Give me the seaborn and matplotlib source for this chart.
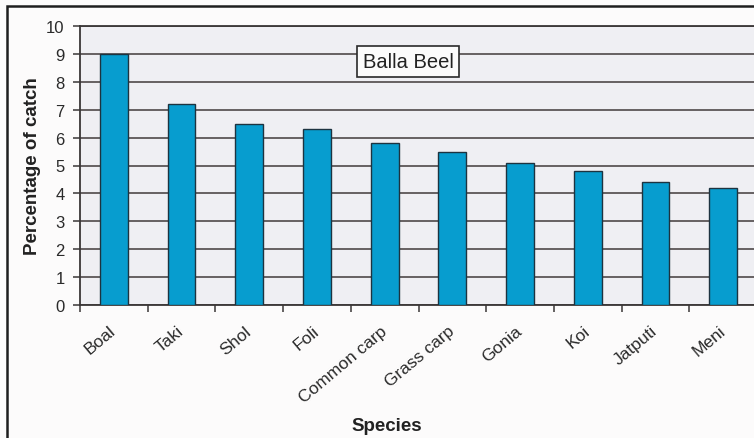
import matplotlib
matplotlib.use("Agg")
import matplotlib.pyplot as plt
from matplotlib.patches import Rectangle
from matplotlib.ticker import FixedLocator, NullFormatter
import numpy as np
import pandas as pd
import seaborn as sns

# Catch composition, Balla Beel
species = ["Boal", "Taki", "Shol", "Foli", "Common carp", "Grass carp",
           "Gonia", "Koi", "Jatputi", "Meni"]
catch_pct = [9.0, 7.2, 6.5, 6.3, 5.8, 5.5, 5.1, 4.8, 4.4, 4.2]
y_ticks = list(range(0, 11))
beel_name = "Balla Beel"

df = pd.DataFrame({"Species": species, "Percentage of catch": catch_pct})

sns.set_style("white")
plt.rcParams["font.family"] = ["Liberation Sans", "DejaVu Sans"]

W, H = 754, 439
fig = plt.figure(figsize=(W / 100, H / 100), dpi=100, facecolor="#fcfbfb")

# outer frame of the chart area (runs off the right and bottom edges)
fig.patches.append(Rectangle((7 / W, -0.2), 1.2, (H - 7) / H + 0.2,
                             transform=fig.transFigure, fill=False,
                             edgecolor="#1e1e1e", linewidth=1.8))

ax_left, ax_right, ax_top, ax_bottom = 80, 757, 27, 306
ax = fig.add_axes([ax_left / W, (H - ax_bottom) / H,
                   (ax_right - ax_left) / W, (ax_bottom - ax_top) / H])
ax.set_facecolor("#efeff3")

sns.barplot(data=df, x="Species", y="Percentage of catch", ax=ax,
            color="#079dcf", saturation=1, width=0.41,
            edgecolor="#1d3340", linewidth=1.0, zorder=3)

ax.set_xlim(-0.5, len(species) - 0.5)
ax.set_ylim(0, 10)
ax.set_yticks(y_ticks)
ax.yaxis.grid(True, color="#5b5656", linewidth=1.3, zorder=1)
ax.set_axisbelow(True)

for side in ["left", "bottom", "top"]:
    ax.spines[side].set_visible(True)
    ax.spines[side].set_color("#3a3636")
    ax.spines[side].set_linewidth(1.3)
ax.spines["right"].set_visible(False)

# category labels at centres, tick marks at category boundaries
ax.tick_params(axis="x", which="major", length=0, pad=17, labelsize=12.5,
               labelcolor="#2a2a2a")
ax.xaxis.set_minor_locator(FixedLocator(np.arange(-0.5, len(species), 1.0)))
ax.xaxis.set_minor_formatter(NullFormatter())
ax.tick_params(axis="x", which="minor", direction="out", length=5,
               width=1.1, color="#3a3636", bottom=True)
for lab in ax.get_xticklabels():
    lab.set_rotation(40)
    lab.set_ha("right")
    lab.set_va("center")
    lab.set_rotation_mode("anchor")

ax.tick_params(axis="y", direction="out", length=5, width=1.1,
               color="#3a3636", pad=6, labelsize=12, labelcolor="#2a2a2a",
               left=True)

ax.set_xlabel("Species", fontsize=13.5, fontweight="bold", color="#222222")
ax.xaxis.set_label_coords(0.4535, -0.40)
ax.set_ylabel("Percentage of catch", fontsize=13.5, fontweight="bold",
              color="#222222")
ax.yaxis.set_label_coords(-0.058, 0.5)

ax.text(0.4845, 0.874, beel_name, transform=ax.transAxes, ha="center",
        va="center", fontsize=14.5, color="#222222", zorder=5,
        bbox=dict(boxstyle="square,pad=0.3", facecolor="#fbfbfb",
                  edgecolor="#2a2a2a", linewidth=1.2))

fig.savefig("out.png", dpi=100, facecolor=fig.get_facecolor())
